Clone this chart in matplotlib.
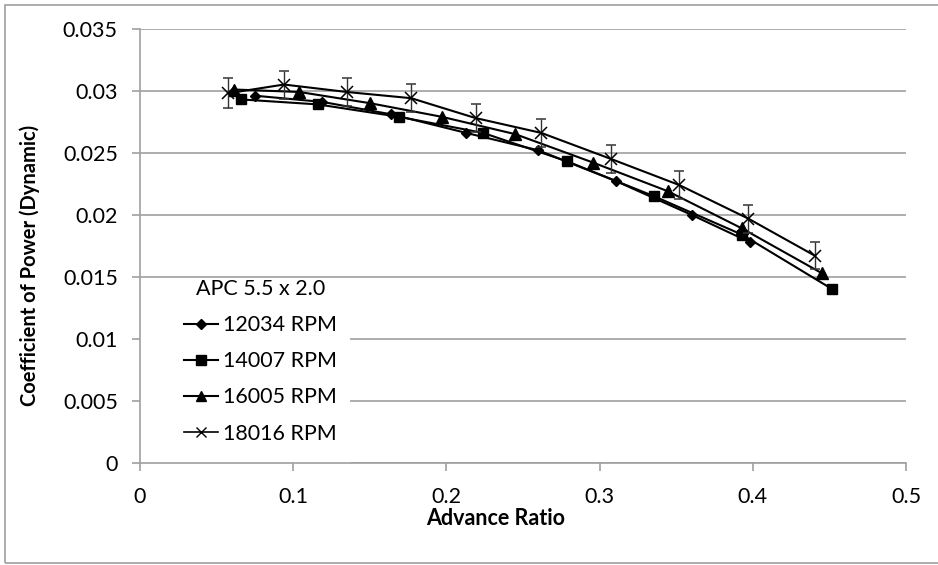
import matplotlib
matplotlib.use('Agg')
import matplotlib.pyplot as plt
from matplotlib.patches import Rectangle
from matplotlib.lines import Line2D

plt.rcParams['font.family'] = ['Lato', 'DejaVu Sans']

# advance ratio / power coefficient
j_12034 = [0.075, 0.119, 0.164, 0.213, 0.260, 0.311, 0.360, 0.398]
cp_12034 = [0.0296, 0.0291, 0.0281, 0.0266, 0.0252, 0.0227, 0.0200, 0.0178]

j_14007 = [0.066, 0.116, 0.169, 0.224, 0.279, 0.3355, 0.393, 0.452]
cp_14007 = [0.0293, 0.0289, 0.0279, 0.0266, 0.0243, 0.0215, 0.0184, 0.0140]

j_16005 = [0.0613, 0.104, 0.150, 0.197, 0.245, 0.296, 0.3446, 0.393, 0.445]
cp_16005 = [0.0301, 0.0299, 0.0290, 0.0279, 0.0265, 0.0242, 0.0219, 0.0189, 0.0153]

j_18016 = [0.0577, 0.094, 0.135, 0.177, 0.219, 0.262, 0.3075, 0.352, 0.397, 0.4406]
cp_18016 = [0.0298, 0.0305, 0.0299, 0.0294, 0.0278, 0.0266, 0.0245, 0.0224, 0.0197, 0.0167]
err_18016 = [0.0012, 0.00113, 0.00113, 0.00113, 0.00113, 0.00113, 0.00113, 0.00113, 0.00113, 0.0011]

x_ticks = [0, 0.1, 0.2, 0.3, 0.4, 0.5]
x_labels = ['0', '0.1', '0.2', '0.3', '0.4', '0.5']
y_ticks = [0, 0.005, 0.01, 0.015, 0.02, 0.025, 0.03, 0.035]
y_labels = ['0', '0.005', '0.01', '0.015', '0.02', '0.025', '0.03', '0.035']

W, H = 938, 565
fig = plt.figure(figsize=(W / 100, H / 100), dpi=100)
ax = fig.add_axes([140 / W, 1 - 463 / H, 766 / W, (463 - 28.7) / H])

grey = '#a0a0a0'
fs = 15.5
# chart area border
fig.patches.append(Rectangle((5 / W, 1 - 563 / H), 1.0, (563 - 5) / H,
                             transform=fig.transFigure, fill=False,
                             edgecolor=grey, lw=1.2))

ax.set_xlim(0, 0.5)
ax.set_ylim(0, 0.035)
ax.set_xticks(x_ticks)
ax.set_xticklabels(x_labels)
ax.set_yticks(y_ticks)
ax.set_yticklabels(y_labels)
ax.yaxis.grid(True, color=grey, lw=1.2)
ax.set_axisbelow(True)
for s in ['top', 'right']:
    ax.spines[s].set_visible(False)
for s in ['left', 'bottom']:
    ax.spines[s].set_color(grey)
    ax.spines[s].set_linewidth(1.2)
ax.tick_params(axis='y', direction='out', length=6, width=1.2, color=grey,
               labelsize=fs, pad=10)
ax.tick_params(axis='x', direction='out', length=6, width=1.2, color=grey,
               labelsize=fs, pad=11)

kw = dict(color='black', lw=1.5)
ax.plot(j_12034, cp_12034, marker='D', ms=5.5, **kw)
ax.plot(j_14007, cp_14007, marker='s', ms=7.5, **kw)
ax.plot(j_16005, cp_16005, marker='^', ms=8, **kw)
ax.errorbar(j_18016, cp_18016, yerr=err_18016, marker='x', ms=9, mew=1.1,
            ecolor='#333333', elinewidth=1, capsize=3.5, capthick=1, **kw)

# axis titles are centred on the chart area, not the plot area
ax.set_xlabel('Advance Ratio', fontsize=fs, fontweight='bold')
ax.xaxis.set_label_coords((496 - 140) / 766, -(508 - 463) / 434.3)
ax.set_ylabel('Coefficient of Power (Dynamic)', fontsize=14.5, fontweight='bold')
ax.yaxis.set_label_coords(-(140 - 40) / 766, (463 - 265) / 434.3)

# white legend background over the gridlines
ax.add_patch(Rectangle((0, 0), (350 - 140) / 766, (463 - 279) / 434.3,
                       transform=ax.transAxes, facecolor='white',
                       edgecolor='none', zorder=1.5))
handles = [
    Line2D([], [], marker='D', ms=5, **kw),
    Line2D([], [], marker='s', ms=6.5, **kw),
    Line2D([], [], marker='^', ms=7, **kw),
    Line2D([], [], marker='x', ms=7.5, mew=1, color='black', lw=1.2),
]
labels = ['12034 RPM', '14007 RPM', '16005 RPM', '18016 RPM']
leg = ax.legend(handles, labels, title='APC 5.5 x 2.0', loc='upper left',
                bbox_to_anchor=((184 - 140) / 766, (463 - 279) / 434.3),
                frameon=False, borderpad=0, borderaxespad=0, fontsize=fs,
                title_fontsize=fs, handlelength=1.6, handletextpad=0.2,
                labelspacing=0.75)

fig.savefig('out.png', dpi=100)
